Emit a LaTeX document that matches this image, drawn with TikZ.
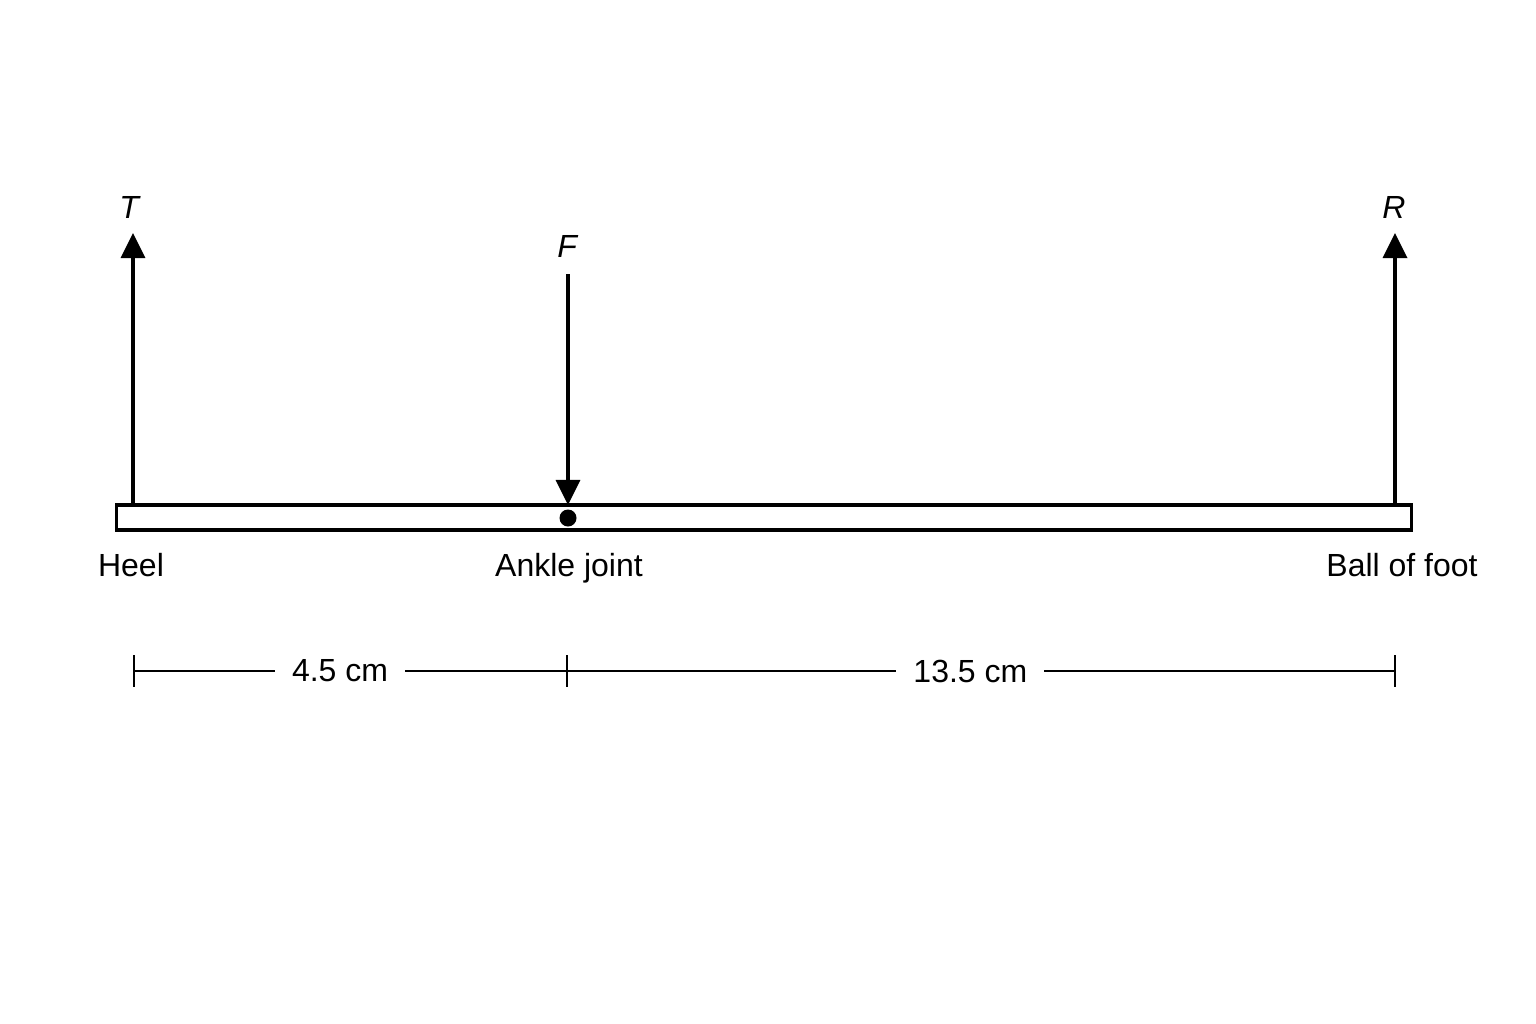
\documentclass[tikz,border=0pt]{standalone}
\usepackage{fontspec}
\setmainfont{Liberation Sans}
\usetikzlibrary{arrows.meta,positioning}
\begin{document}
\begin{tikzpicture}[x=0.01cm,y=-0.01cm,line width=1pt,
        font=\fontsize{9.1}{11}\selectfont,
        force/.style={-{Triangle[length=0.25cm,width=0.24cm]}},
        dim/.style={{Bar[width=0.31cm]}-{Bar[width=0.31cm]},line width=0.65pt},
        dimend/.style={-{Bar[width=0.31cm]},line width=0.65pt},
        dimlabel/.style={fill=white,inner xsep=0.17cm}]
        \useasboundingbox (0,0) rectangle (1536,1024);
        \node (beam) [draw,minimum width=12.94cm,minimum height=0.25cm,inner sep=0pt] at (764,517.5) {};
        \node (ankle) [circle,fill,inner sep=0pt,minimum size=0.17cm] at (568,518) {};
        \coordinate (heel) at (133,505);
        \coordinate (ball) at (1395,505);
        \coordinate (Ttip) at (133,233);
        \coordinate (Rtip) at (1395,233);
        \coordinate (Ftop) at (568,274);
        \coordinate (Fend) at (568,505);
        \node (T) at (130,207) {\textit{T}};
        \node (F) at (568,246) {\textit{F}};
        \node (R) at (1394,207) {\textit{R}};
        \node (heellabel) [anchor=base] at (131,576) {Heel};
        \node (anklelabel) [anchor=base] at (569,576) {Ankle joint};
        \node (balllabel) [anchor=base] at (1402,576) {Ball of foot};
        \coordinate (dA) at (133,671);
        \coordinate (dB) at (568,671);
        \coordinate (dC) at (1396,671);
        \path
        (heel) edge [force] (Ttip)
        (ball) edge [force] (Rtip)
        (Ftop) edge [force] (Fend)
        (dA) edge [dim] node [dimlabel,pos=0.476] {4.5 cm} (dB)
        (dB) edge [dimend] node [dimlabel,pos=0.486] {13.5 cm} (dC);
    \end{tikzpicture}
\end{document}
